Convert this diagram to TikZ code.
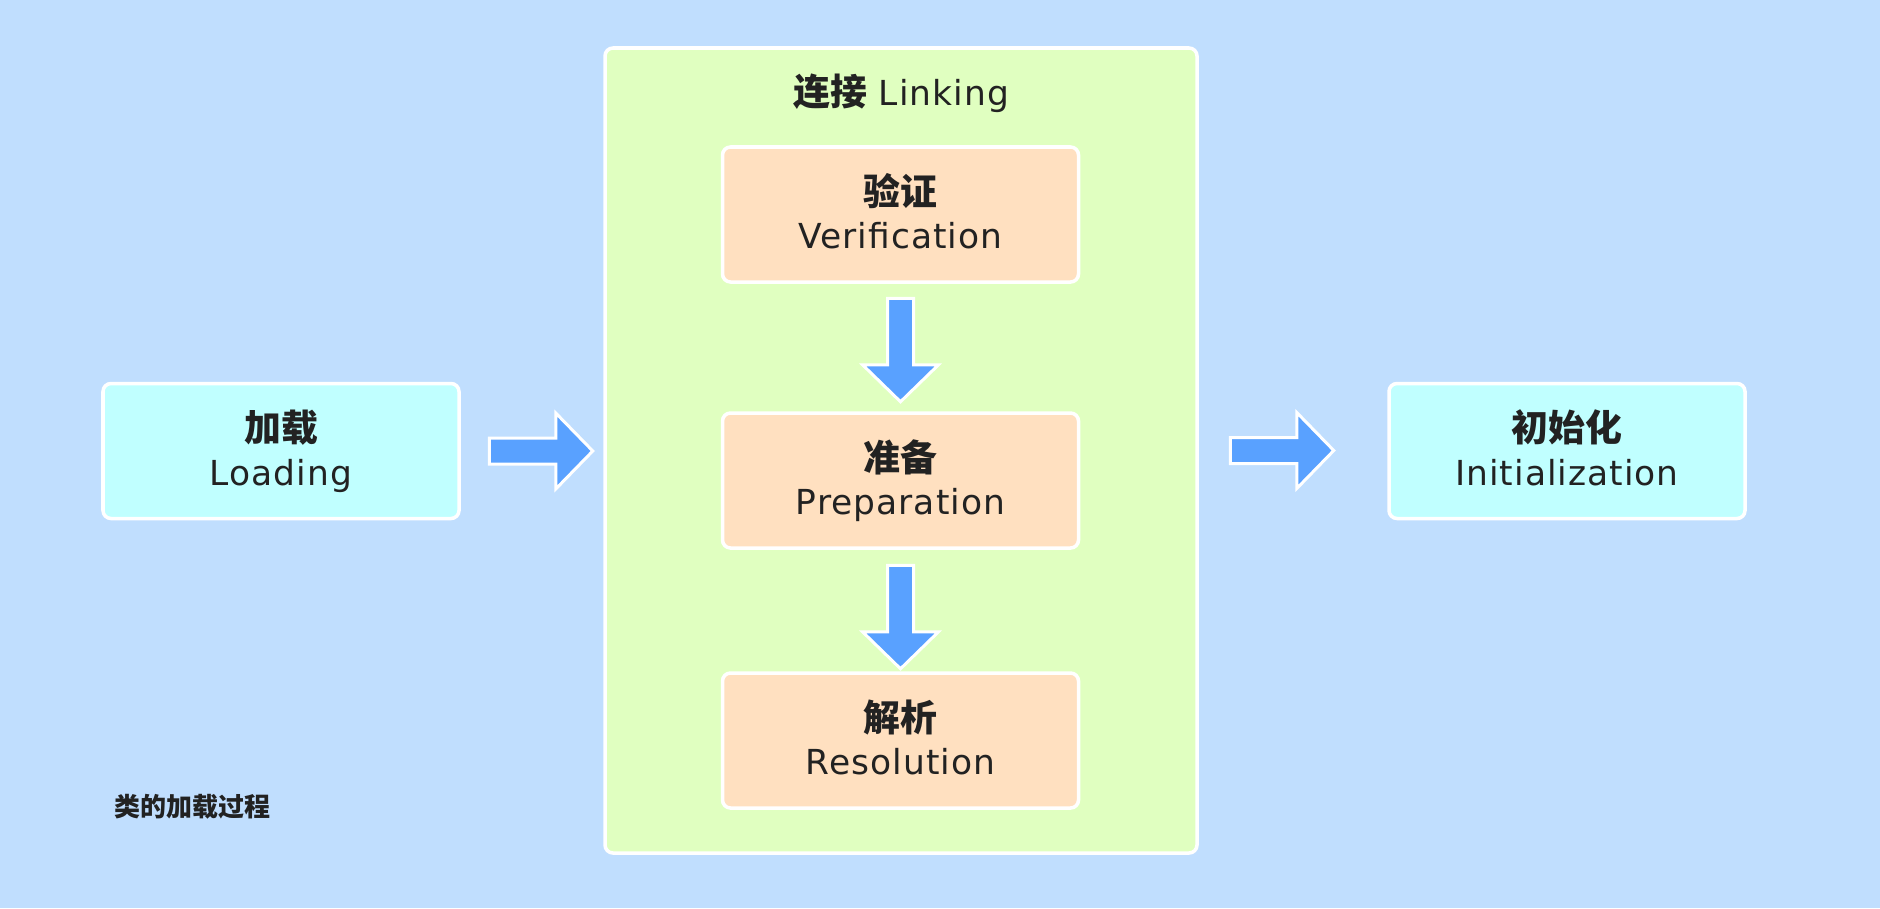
\documentclass[tikz,border=0pt]{standalone}
\usepackage{fontspec}
\setmainfont{DejaVu Sans}[LetterSpace=3]
\newfontfamily\cjk{Noto Sans CJK SC}
\usepackage{tikz}
\usetikzlibrary{calc}

\definecolor{bgblue}{HTML}{C0DEFE}
\definecolor{cyanbox}{HTML}{C0FFFF}
\definecolor{greenbox}{HTML}{E0FFC0}
\definecolor{peachbox}{HTML}{FFE0C0}
\definecolor{arrowblue}{HTML}{59A1FF}
\definecolor{txt}{HTML}{222222}

\newcommand{\zh}[1]{{\cjk\bfseries\fontsize{10.5}{12.4}\selectfont #1}}

\tikzset{
  stage/.style={draw=white, line width=1pt, rounded corners=0.08cm,
    minimum width=3.56cm, minimum height=1.35cm, align=center,
    text height=21.6pt, text depth=2pt,
    text=txt, font=\fontsize{9.8}{12.4}\selectfont},
  phase/.style={stage, fill=cyanbox},
  substep/.style={stage, fill=peachbox},
  blockarrow/.pic={
    \draw[white, line width=0.85pt, fill=arrowblue, line join=miter]
      (0,0.13) -- (0.665,0.13) -- (0.665,0.38) -- (1.035,0)
      -- (0.665,-0.38) -- (0.665,-0.13) -- (0,-0.13) -- cycle;
  }
}

\begin{document}
\begin{tikzpicture}[scale=1]
\path[use as bounding box, fill=bgblue] (0,0) rectangle (18.8,9.08);

% linking stage with its three steps
\node[draw=white, line width=1pt, rounded corners=0.08cm, fill=greenbox, minimum width=5.92cm, minimum height=8.05cm] (link) at (9.01,4.575) {};
\node[anchor=base, text=txt, font=\fontsize{9.8}{12.4}\selectfont] (linktitle) at ($(link.north)+(0,-0.59)$) {\zh{连接} Linking};
\node[substep] (verif) at (9.005,6.935) {\zh{验证}\\Verification};
\node[substep] (prep) at (9.005,4.275) {\zh{准备}\\Preparation};
\node[substep] (resol) at (9.005,1.675) {\zh{解析}\\Resolution};

\node[phase] (load) at (2.81,4.57) {\zh{加载}\\Loading};
\node[phase] (init) at (15.67,4.57) {\zh{初始化}\\Initialization};

% block arrows
\pic at ($(load.east)+(0.285,0)$) {blockarrow};
\pic at ($(link.east)+(0.315,0)$) {blockarrow};
\pic[rotate=-90] at ($(verif.south)+(0,-0.145)$) {blockarrow};
\pic[rotate=-90] at ($(prep.south)+(0,-0.155)$) {blockarrow};

\node[anchor=west, inner sep=0pt, text=txt] (caption) at (1.14,1.015) {\cjk\bfseries\fontsize{7.4}{9}\selectfont 类的加载过程};
\end{tikzpicture}
\end{document}
